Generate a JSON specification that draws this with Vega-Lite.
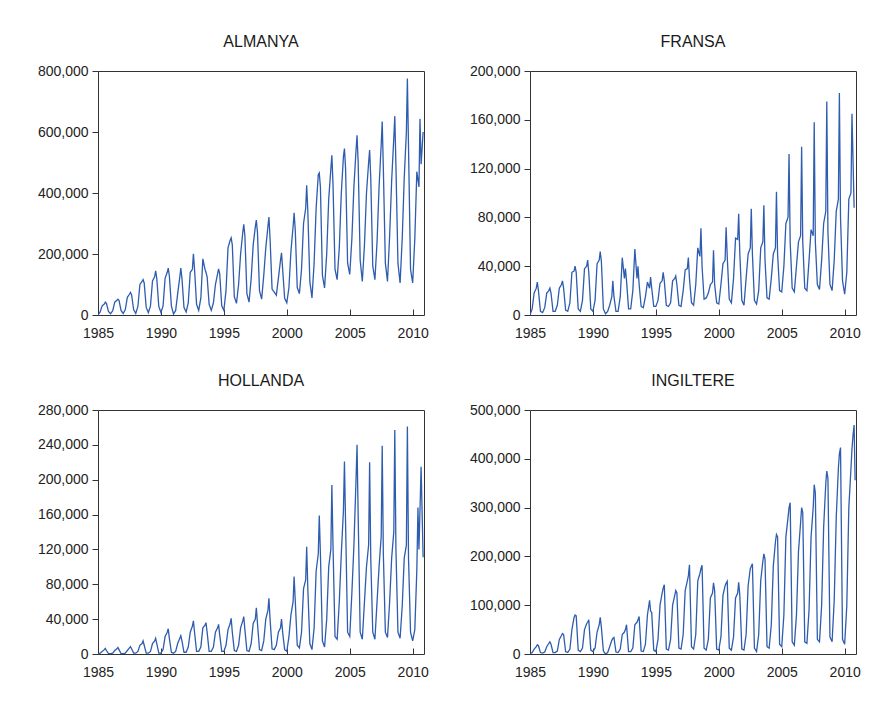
{
"$schema": "https://vega.github.io/schema/vega-lite/v6.json",
"background": "white",
"padding": {"left": 36, "top": 33, "right": 5, "bottom": 5},
"spacing": 31,
"datasets": {
"de": [
{"t":1985,"v":0},{"t":1985.17,"v":10000},{"t":1985.33,"v":30000},{"t":1985.5,"v":36000},{"t":1985.58,"v":42000},{"t":1985.67,"v":38000},{"t":1985.83,"v":12000},
{"t":1986,"v":4000},{"t":1986.17,"v":14000},{"t":1986.33,"v":42000},{"t":1986.5,"v":48000},{"t":1986.58,"v":52000},{"t":1986.67,"v":48000},{"t":1986.83,"v":15000},
{"t":1987,"v":5000},{"t":1987.17,"v":18000},{"t":1987.33,"v":58000},{"t":1987.5,"v":68000},{"t":1987.58,"v":74000},{"t":1987.67,"v":66000},{"t":1987.83,"v":18000},
{"t":1988,"v":5000},{"t":1988.17,"v":28000},{"t":1988.33,"v":100000},{"t":1988.5,"v":110000},{"t":1988.58,"v":116000},{"t":1988.67,"v":105000},{"t":1988.83,"v":25000},
{"t":1989,"v":8000},{"t":1989.17,"v":30000},{"t":1989.33,"v":112000},{"t":1989.5,"v":125000},{"t":1989.58,"v":145000},{"t":1989.67,"v":120000},{"t":1989.83,"v":28000},
{"t":1990,"v":8000},{"t":1990.17,"v":30000},{"t":1990.33,"v":120000},{"t":1990.5,"v":140000},{"t":1990.58,"v":154000},{"t":1990.67,"v":128000},{"t":1990.83,"v":30000},
{"t":1991,"v":3000},{"t":1991.17,"v":15000},{"t":1991.33,"v":70000},{"t":1991.5,"v":125000},{"t":1991.58,"v":154000},{"t":1991.67,"v":120000},{"t":1991.83,"v":25000},
{"t":1992,"v":10000},{"t":1992.17,"v":40000},{"t":1992.33,"v":140000},{"t":1992.5,"v":150000},{"t":1992.58,"v":201000},{"t":1992.67,"v":150000},{"t":1992.83,"v":35000},
{"t":1993,"v":15000},{"t":1993.17,"v":55000},{"t":1993.33,"v":184000},{"t":1993.5,"v":150000},{"t":1993.58,"v":140000},{"t":1993.67,"v":125000},{"t":1993.83,"v":35000},
{"t":1994,"v":15000},{"t":1994.17,"v":40000},{"t":1994.33,"v":100000},{"t":1994.5,"v":135000},{"t":1994.58,"v":151000},{"t":1994.67,"v":135000},{"t":1994.83,"v":30000},
{"t":1995,"v":15000},{"t":1995.17,"v":80000},{"t":1995.33,"v":220000},{"t":1995.5,"v":245000},{"t":1995.58,"v":253000},{"t":1995.67,"v":230000},{"t":1995.83,"v":60000},
{"t":1996,"v":38000},{"t":1996.17,"v":100000},{"t":1996.33,"v":200000},{"t":1996.5,"v":270000},{"t":1996.58,"v":297000},{"t":1996.67,"v":260000},{"t":1996.83,"v":70000},
{"t":1997,"v":42000},{"t":1997.17,"v":120000},{"t":1997.33,"v":230000},{"t":1997.5,"v":290000},{"t":1997.58,"v":311000},{"t":1997.67,"v":270000},{"t":1997.83,"v":80000},
{"t":1998,"v":52000},{"t":1998.17,"v":130000},{"t":1998.33,"v":220000},{"t":1998.5,"v":290000},{"t":1998.58,"v":321000},{"t":1998.67,"v":250000},{"t":1998.83,"v":85000},
{"t":1999,"v":75000},{"t":1999.17,"v":65000},{"t":1999.33,"v":120000},{"t":1999.5,"v":180000},{"t":1999.58,"v":204000},{"t":1999.67,"v":150000},{"t":1999.83,"v":55000},
{"t":2000,"v":40000},{"t":2000.17,"v":90000},{"t":2000.33,"v":210000},{"t":2000.5,"v":290000},{"t":2000.58,"v":335000},{"t":2000.67,"v":280000},{"t":2000.83,"v":90000},
{"t":2001,"v":70000},{"t":2001.17,"v":150000},{"t":2001.33,"v":300000},{"t":2001.5,"v":350000},{"t":2001.58,"v":425000},{"t":2001.67,"v":340000},{"t":2001.83,"v":110000},
{"t":2002,"v":56000},{"t":2002.17,"v":170000},{"t":2002.33,"v":350000},{"t":2002.5,"v":460000},{"t":2002.58,"v":466000},{"t":2002.67,"v":420000},{"t":2002.83,"v":130000},
{"t":2003,"v":89000},{"t":2003.17,"v":200000},{"t":2003.33,"v":380000},{"t":2003.5,"v":480000},{"t":2003.58,"v":524000},{"t":2003.67,"v":430000},{"t":2003.83,"v":150000},
{"t":2004,"v":116000},{"t":2004.17,"v":220000},{"t":2004.33,"v":400000},{"t":2004.5,"v":520000},{"t":2004.58,"v":546000},{"t":2004.67,"v":480000},{"t":2004.83,"v":170000},
{"t":2005,"v":133000},{"t":2005.17,"v":250000},{"t":2005.33,"v":420000},{"t":2005.5,"v":540000},{"t":2005.58,"v":589000},{"t":2005.67,"v":500000},{"t":2005.83,"v":180000},
{"t":2006,"v":110000},{"t":2006.17,"v":230000},{"t":2006.33,"v":400000},{"t":2006.5,"v":500000},{"t":2006.58,"v":541000},{"t":2006.67,"v":450000},{"t":2006.83,"v":160000},
{"t":2007,"v":116000},{"t":2007.17,"v":240000},{"t":2007.33,"v":420000},{"t":2007.5,"v":560000},{"t":2007.58,"v":634000},{"t":2007.67,"v":480000},{"t":2007.83,"v":170000},
{"t":2008,"v":110000},{"t":2008.17,"v":260000},{"t":2008.33,"v":440000},{"t":2008.5,"v":580000},{"t":2008.58,"v":652000},{"t":2008.67,"v":490000},{"t":2008.83,"v":170000},
{"t":2009,"v":105000},{"t":2009.17,"v":250000},{"t":2009.33,"v":450000},{"t":2009.5,"v":600000},{"t":2009.58,"v":775000},{"t":2009.67,"v":550000},{"t":2009.83,"v":150000},
{"t":2010,"v":105000},{"t":2010.17,"v":250000},{"t":2010.33,"v":470000},{"t":2010.5,"v":420000},{"t":2010.58,"v":643000},{"t":2010.67,"v":494000},{"t":2010.83,"v":600000}
],
"fr": [
{"t":1985,"v":0},{"t":1985.17,"v":5000},{"t":1985.33,"v":18000},{"t":1985.5,"v":22000},{"t":1985.58,"v":27000},{"t":1985.67,"v":20000},{"t":1985.83,"v":3000},
{"t":1986,"v":2000},{"t":1986.17,"v":6000},{"t":1986.33,"v":18000},{"t":1986.5,"v":20000},{"t":1986.58,"v":22000},{"t":1986.67,"v":18000},{"t":1986.83,"v":3000},
{"t":1987,"v":3000},{"t":1987.17,"v":8000},{"t":1987.33,"v":22000},{"t":1987.5,"v":25000},{"t":1987.58,"v":28000},{"t":1987.67,"v":22000},{"t":1987.83,"v":4000},
{"t":1988,"v":3000},{"t":1988.17,"v":10000},{"t":1988.33,"v":35000},{"t":1988.5,"v":36000},{"t":1988.58,"v":40000},{"t":1988.67,"v":35000},{"t":1988.83,"v":5000},
{"t":1989,"v":3000},{"t":1989.17,"v":12000},{"t":1989.33,"v":38000},{"t":1989.5,"v":40000},{"t":1989.58,"v":45000},{"t":1989.67,"v":35000},{"t":1989.83,"v":5000},
{"t":1990,"v":3000},{"t":1990.17,"v":12000},{"t":1990.33,"v":42000},{"t":1990.5,"v":45000},{"t":1990.58,"v":52000},{"t":1990.67,"v":44000},{"t":1990.83,"v":5000},
{"t":1991,"v":1000},{"t":1991.17,"v":3000},{"t":1991.33,"v":8000},{"t":1991.5,"v":15000},{"t":1991.58,"v":28000},{"t":1991.67,"v":15000},{"t":1991.83,"v":3000},
{"t":1992,"v":3000},{"t":1992.17,"v":15000},{"t":1992.33,"v":47000},{"t":1992.5,"v":30000},{"t":1992.58,"v":38000},{"t":1992.67,"v":28000},{"t":1992.83,"v":5000},
{"t":1993,"v":5000},{"t":1993.17,"v":20000},{"t":1993.33,"v":54000},{"t":1993.5,"v":30000},{"t":1993.58,"v":40000},{"t":1993.67,"v":25000},{"t":1993.83,"v":7000},
{"t":1994,"v":6000},{"t":1994.17,"v":15000},{"t":1994.33,"v":27000},{"t":1994.5,"v":22000},{"t":1994.58,"v":31000},{"t":1994.67,"v":22000},{"t":1994.83,"v":7000},
{"t":1995,"v":7000},{"t":1995.17,"v":12000},{"t":1995.33,"v":26000},{"t":1995.5,"v":28000},{"t":1995.58,"v":35000},{"t":1995.67,"v":28000},{"t":1995.83,"v":8000},
{"t":1996,"v":7000},{"t":1996.17,"v":10000},{"t":1996.33,"v":28000},{"t":1996.5,"v":30000},{"t":1996.58,"v":32000},{"t":1996.67,"v":25000},{"t":1996.83,"v":8000},
{"t":1997,"v":7000},{"t":1997.17,"v":20000},{"t":1997.33,"v":37000},{"t":1997.5,"v":38000},{"t":1997.58,"v":47000},{"t":1997.67,"v":30000},{"t":1997.83,"v":10000},
{"t":1998,"v":8000},{"t":1998.17,"v":25000},{"t":1998.33,"v":55000},{"t":1998.5,"v":48000},{"t":1998.58,"v":71000},{"t":1998.67,"v":40000},{"t":1998.83,"v":13000},
{"t":1999,"v":14000},{"t":1999.17,"v":18000},{"t":1999.33,"v":25000},{"t":1999.5,"v":27000},{"t":1999.58,"v":53000},{"t":1999.67,"v":25000},{"t":1999.83,"v":10000},
{"t":2000,"v":9000},{"t":2000.17,"v":25000},{"t":2000.33,"v":42000},{"t":2000.5,"v":45000},{"t":2000.58,"v":72000},{"t":2000.67,"v":48000},{"t":2000.83,"v":13000},
{"t":2001,"v":10000},{"t":2001.17,"v":30000},{"t":2001.33,"v":63000},{"t":2001.5,"v":62000},{"t":2001.58,"v":83000},{"t":2001.67,"v":50000},{"t":2001.83,"v":12000},
{"t":2002,"v":8000},{"t":2002.17,"v":30000},{"t":2002.33,"v":50000},{"t":2002.5,"v":55000},{"t":2002.58,"v":87000},{"t":2002.67,"v":50000},{"t":2002.83,"v":12000},
{"t":2003,"v":9000},{"t":2003.17,"v":20000},{"t":2003.33,"v":55000},{"t":2003.5,"v":60000},{"t":2003.58,"v":90000},{"t":2003.67,"v":45000},{"t":2003.83,"v":14000},
{"t":2004,"v":13000},{"t":2004.17,"v":30000},{"t":2004.33,"v":50000},{"t":2004.5,"v":55000},{"t":2004.58,"v":101000},{"t":2004.67,"v":50000},{"t":2004.83,"v":20000},
{"t":2005,"v":19000},{"t":2005.17,"v":40000},{"t":2005.33,"v":75000},{"t":2005.5,"v":80000},{"t":2005.58,"v":132000},{"t":2005.67,"v":60000},{"t":2005.83,"v":22000},
{"t":2006,"v":19000},{"t":2006.17,"v":40000},{"t":2006.33,"v":60000},{"t":2006.5,"v":65000},{"t":2006.58,"v":138000},{"t":2006.67,"v":60000},{"t":2006.83,"v":22000},
{"t":2007,"v":20000},{"t":2007.17,"v":45000},{"t":2007.33,"v":70000},{"t":2007.5,"v":65000},{"t":2007.58,"v":158000},{"t":2007.67,"v":60000},{"t":2007.83,"v":25000},
{"t":2008,"v":21000},{"t":2008.17,"v":45000},{"t":2008.33,"v":75000},{"t":2008.5,"v":85000},{"t":2008.58,"v":175000},{"t":2008.67,"v":68000},{"t":2008.83,"v":25000},
{"t":2009,"v":20000},{"t":2009.17,"v":45000},{"t":2009.33,"v":85000},{"t":2009.5,"v":95000},{"t":2009.58,"v":182000},{"t":2009.67,"v":80000},{"t":2009.83,"v":28000},
{"t":2010,"v":17000},{"t":2010.17,"v":35000},{"t":2010.33,"v":95000},{"t":2010.5,"v":100000},{"t":2010.58,"v":165000},{"t":2010.75,"v":88000}
],
"nl": [
{"t":1985,"v":0},{"t":1985.17,"v":1000},{"t":1985.33,"v":3000},{"t":1985.5,"v":5000},{"t":1985.58,"v":6500},{"t":1985.67,"v":4000},{"t":1985.83,"v":500},
{"t":1986,"v":500},{"t":1986.17,"v":1000},{"t":1986.33,"v":4000},{"t":1986.5,"v":6000},{"t":1986.58,"v":7600},{"t":1986.67,"v":5000},{"t":1986.83,"v":500},
{"t":1987,"v":500},{"t":1987.17,"v":1000},{"t":1987.33,"v":4000},{"t":1987.5,"v":7000},{"t":1987.58,"v":8400},{"t":1987.67,"v":6000},{"t":1987.83,"v":1000},
{"t":1988,"v":1000},{"t":1988.17,"v":3000},{"t":1988.33,"v":10000},{"t":1988.5,"v":12000},{"t":1988.58,"v":15000},{"t":1988.67,"v":10000},{"t":1988.83,"v":1000},
{"t":1989,"v":1000},{"t":1989.17,"v":3000},{"t":1989.33,"v":12000},{"t":1989.5,"v":15000},{"t":1989.58,"v":18000},{"t":1989.67,"v":12000},{"t":1989.83,"v":1000},
{"t":1990,"v":1000},{"t":1990.17,"v":5000},{"t":1990.33,"v":20000},{"t":1990.5,"v":25000},{"t":1990.58,"v":29000},{"t":1990.67,"v":18000},{"t":1990.83,"v":2000},
{"t":1991,"v":1000},{"t":1991.17,"v":3000},{"t":1991.33,"v":12000},{"t":1991.5,"v":18000},{"t":1991.58,"v":21000},{"t":1991.67,"v":15000},{"t":1991.83,"v":2000},
{"t":1992,"v":2000},{"t":1992.17,"v":8000},{"t":1992.33,"v":25000},{"t":1992.5,"v":32000},{"t":1992.58,"v":38000},{"t":1992.67,"v":25000},{"t":1992.83,"v":3000},
{"t":1993,"v":3000},{"t":1993.17,"v":8000},{"t":1993.33,"v":30000},{"t":1993.5,"v":33000},{"t":1993.58,"v":36000},{"t":1993.67,"v":25000},{"t":1993.83,"v":3000},
{"t":1994,"v":3000},{"t":1994.17,"v":8000},{"t":1994.33,"v":25000},{"t":1994.5,"v":30000},{"t":1994.58,"v":34000},{"t":1994.67,"v":22000},{"t":1994.83,"v":3000},
{"t":1995,"v":3000},{"t":1995.17,"v":10000},{"t":1995.33,"v":28000},{"t":1995.5,"v":35000},{"t":1995.58,"v":41000},{"t":1995.67,"v":25000},{"t":1995.83,"v":4000},
{"t":1996,"v":3000},{"t":1996.17,"v":10000},{"t":1996.33,"v":30000},{"t":1996.5,"v":38000},{"t":1996.58,"v":43000},{"t":1996.67,"v":28000},{"t":1996.83,"v":4000},
{"t":1997,"v":3000},{"t":1997.17,"v":12000},{"t":1997.33,"v":35000},{"t":1997.5,"v":40000},{"t":1997.58,"v":53000},{"t":1997.67,"v":35000},{"t":1997.83,"v":5000},
{"t":1998,"v":4000},{"t":1998.17,"v":15000},{"t":1998.33,"v":40000},{"t":1998.5,"v":50000},{"t":1998.58,"v":64000},{"t":1998.67,"v":40000},{"t":1998.83,"v":6000},
{"t":1999,"v":5000},{"t":1999.17,"v":10000},{"t":1999.33,"v":25000},{"t":1999.5,"v":30000},{"t":1999.58,"v":40000},{"t":1999.67,"v":25000},{"t":1999.83,"v":5000},
{"t":2000,"v":3000},{"t":2000.17,"v":20000},{"t":2000.33,"v":45000},{"t":2000.5,"v":60000},{"t":2000.58,"v":89000},{"t":2000.67,"v":62000},{"t":2000.83,"v":10000},
{"t":2001,"v":7000},{"t":2001.17,"v":25000},{"t":2001.33,"v":75000},{"t":2001.5,"v":85000},{"t":2001.58,"v":123000},{"t":2001.67,"v":75000},{"t":2001.83,"v":12000},
{"t":2002,"v":5000},{"t":2002.17,"v":30000},{"t":2002.33,"v":95000},{"t":2002.5,"v":115000},{"t":2002.58,"v":159000},{"t":2002.67,"v":115000},{"t":2002.83,"v":15000},
{"t":2003,"v":8000},{"t":2003.17,"v":40000},{"t":2003.33,"v":100000},{"t":2003.5,"v":120000},{"t":2003.58,"v":194000},{"t":2003.67,"v":125000},{"t":2003.83,"v":20000},
{"t":2004,"v":17000},{"t":2004.17,"v":60000},{"t":2004.33,"v":115000},{"t":2004.5,"v":165000},{"t":2004.58,"v":221000},{"t":2004.67,"v":150000},{"t":2004.83,"v":25000},
{"t":2005,"v":20000},{"t":2005.17,"v":70000},{"t":2005.33,"v":124000},{"t":2005.5,"v":200000},{"t":2005.58,"v":240000},{"t":2005.67,"v":159000},{"t":2005.83,"v":25000},
{"t":2006,"v":17000},{"t":2006.17,"v":60000},{"t":2006.33,"v":100000},{"t":2006.5,"v":125000},{"t":2006.58,"v":220000},{"t":2006.67,"v":110000},{"t":2006.83,"v":25000},
{"t":2007,"v":17000},{"t":2007.17,"v":60000},{"t":2007.33,"v":100000},{"t":2007.5,"v":135000},{"t":2007.58,"v":239000},{"t":2007.67,"v":115000},{"t":2007.83,"v":25000},
{"t":2008,"v":19000},{"t":2008.17,"v":60000},{"t":2008.33,"v":110000},{"t":2008.5,"v":140000},{"t":2008.58,"v":257000},{"t":2008.67,"v":120000},{"t":2008.83,"v":25000},
{"t":2009,"v":18000},{"t":2009.17,"v":55000},{"t":2009.33,"v":110000},{"t":2009.5,"v":125000},{"t":2009.58,"v":261000},{"t":2009.67,"v":110000},{"t":2009.83,"v":25000},
{"t":2010,"v":15000},{"t":2010.17,"v":28000},{"t":2010.33,"v":96000},{"t":2010.42,"v":168000},{"t":2010.5,"v":120000},{"t":2010.67,"v":215000},{"t":2010.83,"v":111000}
],
"uk": [
{"t":1985,"v":0},{"t":1985.17,"v":3000},{"t":1985.33,"v":10000},{"t":1985.5,"v":15000},{"t":1985.58,"v":19000},{"t":1985.67,"v":17000},{"t":1985.83,"v":3000},
{"t":1986,"v":2000},{"t":1986.17,"v":4000},{"t":1986.33,"v":15000},{"t":1986.5,"v":22000},{"t":1986.58,"v":25000},{"t":1986.67,"v":20000},{"t":1986.83,"v":3000},
{"t":1987,"v":3000},{"t":1987.17,"v":6000},{"t":1987.33,"v":30000},{"t":1987.5,"v":38000},{"t":1987.58,"v":42000},{"t":1987.67,"v":40000},{"t":1987.83,"v":5000},
{"t":1988,"v":3000},{"t":1988.17,"v":10000},{"t":1988.33,"v":50000},{"t":1988.5,"v":75000},{"t":1988.58,"v":80000},{"t":1988.67,"v":78000},{"t":1988.83,"v":8000},
{"t":1989,"v":5000},{"t":1989.17,"v":12000},{"t":1989.33,"v":50000},{"t":1989.5,"v":62000},{"t":1989.58,"v":65000},{"t":1989.67,"v":70000},{"t":1989.83,"v":8000},
{"t":1990,"v":5000},{"t":1990.17,"v":12000},{"t":1990.33,"v":45000},{"t":1990.5,"v":60000},{"t":1990.58,"v":75000},{"t":1990.67,"v":55000},{"t":1990.83,"v":6000},
{"t":1991,"v":0},{"t":1991.17,"v":3000},{"t":1991.33,"v":15000},{"t":1991.5,"v":28000},{"t":1991.58,"v":32000},{"t":1991.67,"v":34000},{"t":1991.83,"v":4000},
{"t":1992,"v":3000},{"t":1992.17,"v":10000},{"t":1992.33,"v":40000},{"t":1992.5,"v":45000},{"t":1992.58,"v":50000},{"t":1992.67,"v":60000},{"t":1992.83,"v":5000},
{"t":1993,"v":5000},{"t":1993.17,"v":12000},{"t":1993.33,"v":60000},{"t":1993.5,"v":65000},{"t":1993.58,"v":70000},{"t":1993.67,"v":77000},{"t":1993.83,"v":6000},
{"t":1994,"v":5000},{"t":1994.17,"v":20000},{"t":1994.33,"v":80000},{"t":1994.5,"v":110000},{"t":1994.58,"v":88000},{"t":1994.67,"v":85000},{"t":1994.83,"v":8000},
{"t":1995,"v":5000},{"t":1995.17,"v":30000},{"t":1995.33,"v":100000},{"t":1995.5,"v":125000},{"t":1995.58,"v":135000},{"t":1995.67,"v":142000},{"t":1995.83,"v":10000},
{"t":1996,"v":8000},{"t":1996.17,"v":30000},{"t":1996.33,"v":100000},{"t":1996.5,"v":120000},{"t":1996.58,"v":130000},{"t":1996.67,"v":125000},{"t":1996.83,"v":12000},
{"t":1997,"v":10000},{"t":1997.17,"v":40000},{"t":1997.33,"v":130000},{"t":1997.5,"v":150000},{"t":1997.58,"v":160000},{"t":1997.67,"v":183000},{"t":1997.83,"v":15000},
{"t":1998,"v":10000},{"t":1998.17,"v":40000},{"t":1998.33,"v":150000},{"t":1998.5,"v":165000},{"t":1998.58,"v":175000},{"t":1998.67,"v":182000},{"t":1998.83,"v":12000},
{"t":1999,"v":8000},{"t":1999.17,"v":30000},{"t":1999.33,"v":115000},{"t":1999.5,"v":125000},{"t":1999.58,"v":146000},{"t":1999.67,"v":130000},{"t":1999.83,"v":10000},
{"t":2000,"v":8000},{"t":2000.17,"v":35000},{"t":2000.33,"v":120000},{"t":2000.5,"v":140000},{"t":2000.58,"v":145000},{"t":2000.67,"v":149000},{"t":2000.83,"v":12000},
{"t":2001,"v":8000},{"t":2001.17,"v":35000},{"t":2001.33,"v":115000},{"t":2001.5,"v":125000},{"t":2001.58,"v":147000},{"t":2001.67,"v":120000},{"t":2001.83,"v":10000},
{"t":2002,"v":8000},{"t":2002.17,"v":40000},{"t":2002.33,"v":140000},{"t":2002.5,"v":175000},{"t":2002.58,"v":180000},{"t":2002.67,"v":185000},{"t":2002.83,"v":12000},
{"t":2003,"v":5000},{"t":2003.17,"v":40000},{"t":2003.33,"v":150000},{"t":2003.5,"v":190000},{"t":2003.58,"v":205000},{"t":2003.67,"v":195000},{"t":2003.83,"v":15000},
{"t":2004,"v":12000},{"t":2004.17,"v":60000},{"t":2004.33,"v":180000},{"t":2004.5,"v":230000},{"t":2004.58,"v":245000},{"t":2004.67,"v":240000},{"t":2004.83,"v":20000},
{"t":2005,"v":15000},{"t":2005.17,"v":80000},{"t":2005.33,"v":240000},{"t":2005.5,"v":280000},{"t":2005.58,"v":300000},{"t":2005.67,"v":310000},{"t":2005.83,"v":25000},
{"t":2006,"v":18000},{"t":2006.17,"v":80000},{"t":2006.33,"v":210000},{"t":2006.5,"v":270000},{"t":2006.58,"v":300000},{"t":2006.67,"v":290000},{"t":2006.83,"v":25000},
{"t":2007,"v":22000},{"t":2007.17,"v":90000},{"t":2007.33,"v":240000},{"t":2007.5,"v":300000},{"t":2007.58,"v":347000},{"t":2007.67,"v":330000},{"t":2007.83,"v":30000},
{"t":2008,"v":25000},{"t":2008.17,"v":100000},{"t":2008.33,"v":260000},{"t":2008.5,"v":350000},{"t":2008.58,"v":375000},{"t":2008.67,"v":360000},{"t":2008.83,"v":35000},
{"t":2009,"v":25000},{"t":2009.17,"v":110000},{"t":2009.33,"v":280000},{"t":2009.5,"v":380000},{"t":2009.58,"v":410000},{"t":2009.67,"v":423000},{"t":2009.83,"v":30000},
{"t":2010,"v":20000},{"t":2010.17,"v":100000},{"t":2010.33,"v":300000},{"t":2010.5,"v":380000},{"t":2010.58,"v":420000},{"t":2010.67,"v":450000},{"t":2010.75,"v":469000},{"t":2010.83,"v":356000}
]
},
"vconcat": [
{"spacing": 39, "hconcat": [
{"width": 326, "height": 244, "title": {"text": "ALMANYA"}, "data": {"name": "de"},
 "mark": {"type": "line", "color": "#2e5caf", "strokeWidth": 1.3, "clip": true},
 "encoding": {
  "x": {"field": "t", "type": "quantitative", "scale": {"domain": [1985, 2010.9], "nice": false, "zero": false}, "axis": {"values": [1985,1990,1995,2000,2005,2010], "format": "d", "title": null, "tickSize": -6, "labelPadding": 17, "labelFlush": false}},
  "y": {"field": "v", "type": "quantitative", "scale": {"domain": [0, 800000], "nice": false}, "axis": {"values": [0,200000,400000,600000,800000], "format": ",d", "title": null, "labelFlush": false}}}},
{"width": 326, "height": 244, "title": {"text": "FRANSA"}, "data": {"name": "fr"},
 "mark": {"type": "line", "color": "#2e5caf", "strokeWidth": 1.3, "clip": true},
 "encoding": {
  "x": {"field": "t", "type": "quantitative", "scale": {"domain": [1985, 2010.9], "nice": false, "zero": false}, "axis": {"values": [1985,1990,1995,2000,2005,2010], "format": "d", "title": null, "tickSize": -6, "labelPadding": 17, "labelFlush": false}},
  "y": {"field": "v", "type": "quantitative", "scale": {"domain": [0, 200000], "nice": false}, "axis": {"values": [0,40000,80000,120000,160000,200000], "format": ",d", "title": null, "labelFlush": false}}}}
]},
{"spacing": 39, "hconcat": [
{"width": 326, "height": 244, "title": {"text": "HOLLANDA"}, "data": {"name": "nl"},
 "mark": {"type": "line", "color": "#2e5caf", "strokeWidth": 1.3, "clip": true},
 "encoding": {
  "x": {"field": "t", "type": "quantitative", "scale": {"domain": [1985, 2010.9], "nice": false, "zero": false}, "axis": {"values": [1985,1990,1995,2000,2005,2010], "format": "d", "title": null, "tickSize": -6, "labelPadding": 17, "labelFlush": false}},
  "y": {"field": "v", "type": "quantitative", "scale": {"domain": [0, 280000], "nice": false}, "axis": {"values": [0,40000,80000,120000,160000,200000,240000,280000], "format": ",d", "title": null, "labelFlush": false}}}},
{"width": 326, "height": 244, "title": {"text": "INGILTERE"}, "data": {"name": "uk"},
 "mark": {"type": "line", "color": "#2e5caf", "strokeWidth": 1.3, "clip": true},
 "encoding": {
  "x": {"field": "t", "type": "quantitative", "scale": {"domain": [1985, 2010.9], "nice": false, "zero": false}, "axis": {"values": [1985,1990,1995,2000,2005,2010], "format": "d", "title": null, "tickSize": -6, "labelPadding": 17, "labelFlush": false}},
  "y": {"field": "v", "type": "quantitative", "scale": {"domain": [0, 500000], "nice": false}, "axis": {"values": [0,100000,200000,300000,400000,500000], "format": ",d", "title": null, "labelFlush": false}}}}
]}
],
"config": {
 "font": "Liberation Sans",
 "view": {"stroke": "#333333", "strokeWidth": 1},
 "axis": {"domain": false, "grid": false, "labelFont": "Liberation Sans", "labelFontSize": 14, "labelColor": "#222222", "tickColor": "#333333", "tickSize": 6, "labelPadding": 4},
 "title": {"font": "Liberation Sans", "fontSize": 16, "fontWeight": "normal", "color": "#1a1a1a", "anchor": "middle", "offset": 14}
}
}
